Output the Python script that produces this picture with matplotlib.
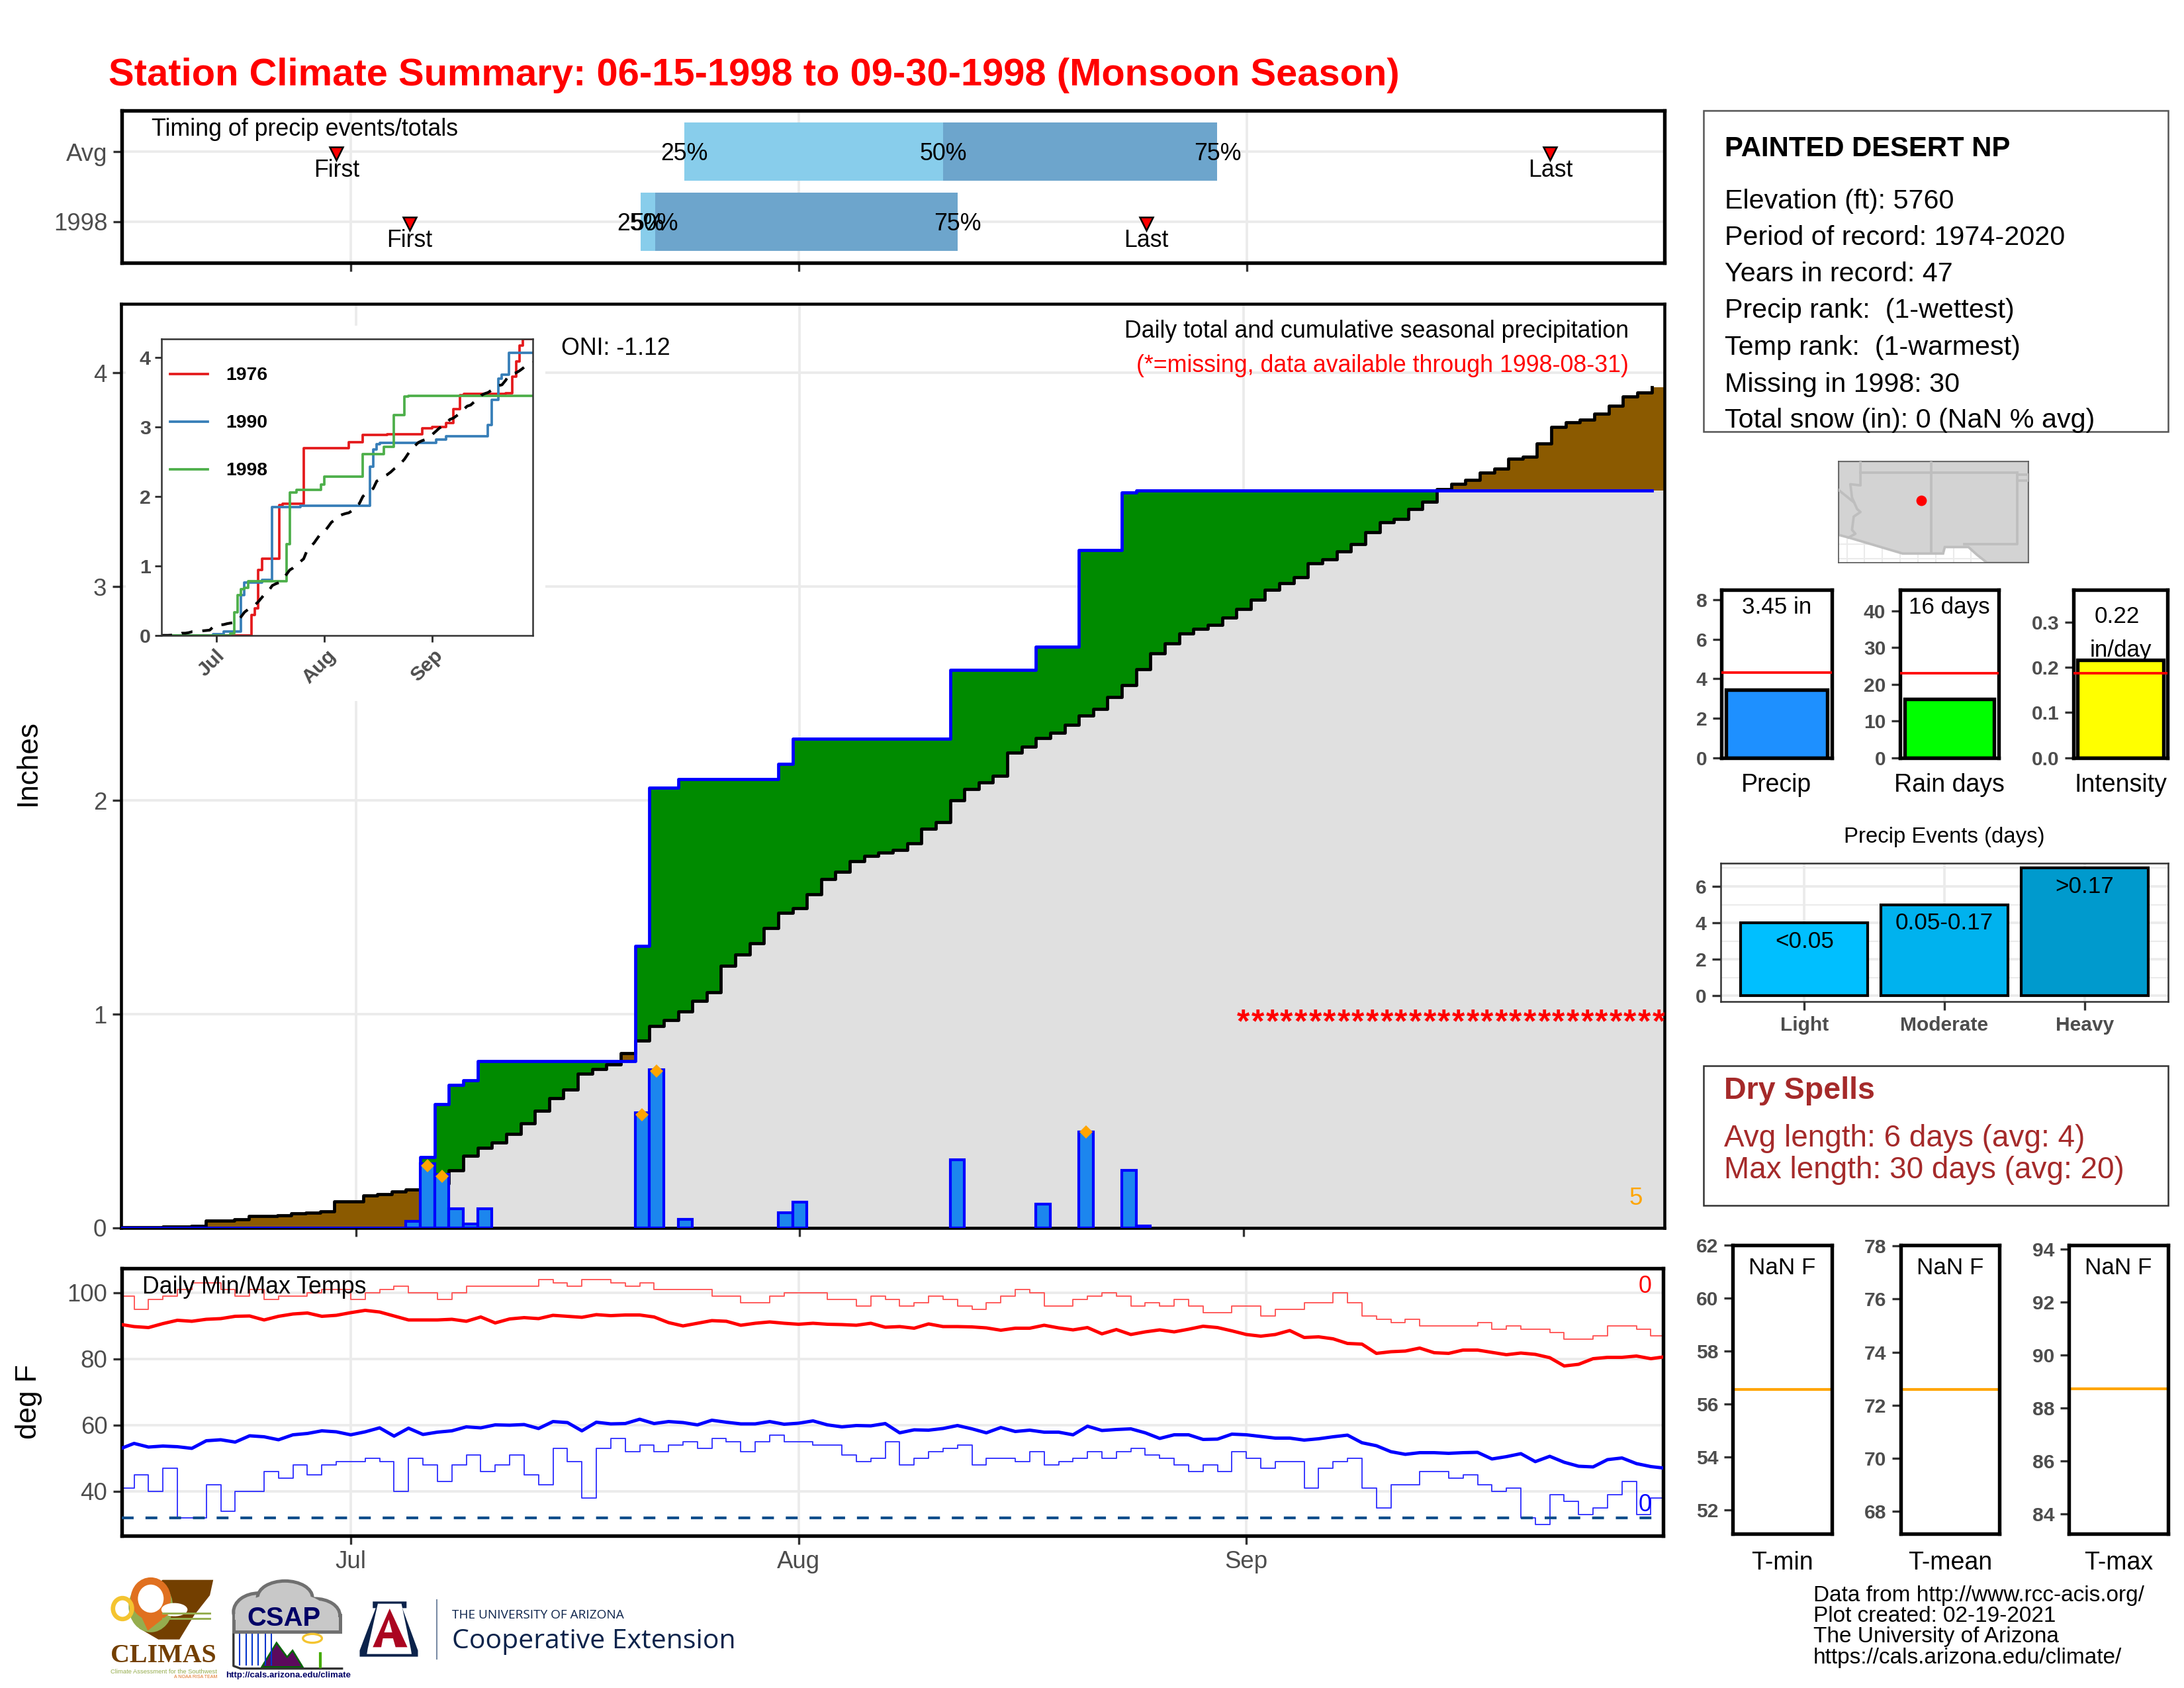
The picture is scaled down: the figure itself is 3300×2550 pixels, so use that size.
import numpy as np
import matplotlib
matplotlib.use("Agg")
import matplotlib.pyplot as plt
from matplotlib.patches import Ellipse, Polygon, Rectangle
from matplotlib.transforms import ScaledTranslation

plt.rcParams["font.family"] = ["Liberation Sans", "DejaVu Sans"]

# day index: 0 = Jun 15, 16 = Jul 1, 47 = Aug 1, 78 = Sep 1, 107 = Sep 30
days = np.arange(108)
month_ticks = [16, 47, 78]
month_labels = ["Jul", "Aug", "Sep"]

# daily precip 1998 (only the wet days)
precip_days = [20, 21, 22, 23, 24, 25, 36, 37, 39, 46, 47, 58, 64, 67, 70, 71]
precip_vals = [0.03, 0.30, 0.25, 0.09, 0.02, 0.09, 0.54, 0.74, 0.04, 0.07, 0.12, 0.32, 0.11, 0.45, 0.27, 0.01]
heavy_days = [21, 22, 36, 37, 67]
heavy_vals = [0.29, 0.24, 0.53, 0.735, 0.45]
missing_days = list(range(78, 108))

# average cumulative precip
avg_cum = [0.002, 0.002, 0.002, 0.005, 0.005, 0.01, 0.033, 0.033, 0.041, 0.055, 0.057, 0.06,
           0.067, 0.072, 0.077, 0.124, 0.124, 0.153, 0.157, 0.17, 0.179, 0.186, 0.207, 0.269,
           0.336, 0.374, 0.398, 0.439, 0.488, 0.548, 0.606, 0.648, 0.72, 0.744, 0.764, 0.819,
           0.876, 0.943, 0.973, 1.012, 1.062, 1.103, 1.227, 1.279, 1.333, 1.404, 1.473, 1.497,
           1.562, 1.631, 1.665, 1.716, 1.739, 1.755, 1.767, 1.8, 1.868, 1.899, 2.0, 2.052,
           2.085, 2.116, 2.222, 2.25, 2.292, 2.315, 2.352, 2.398, 2.429, 2.483, 2.54, 2.615,
           2.689, 2.733, 2.78, 2.804, 2.822, 2.855, 2.896, 2.94, 2.986, 3.017, 3.044, 3.11,
           3.129, 3.165, 3.2, 3.256, 3.302, 3.318, 3.363, 3.398, 3.457, 3.482, 3.498, 3.532,
           3.552, 3.598, 3.609, 3.67, 3.746, 3.769, 3.781, 3.81, 3.847, 3.888, 3.907, 3.932]

# inset years, change points only
y1976_days = [0, 26, 27, 28, 29, 34, 35, 41, 54, 58, 65, 75, 78, 82, 84, 86, 87, 99, 101, 102, 103, 104, 107]
y1976_vals = [0, 0.30, 0.395, 0.94, 1.107, 1.875, 1.90, 2.70, 2.78, 2.886, 2.897, 2.98, 3.0, 3.055, 3.263,
              3.46, 3.475, 3.49, 3.727, 3.946, 4.176, 4.267, 4.267]
y1990_days = [0, 15, 18, 23, 24, 29, 32, 40, 60, 61, 62, 63, 79, 82, 94, 95, 97, 98, 100, 107]
y1990_vals = [0, 0.02, 0.058, 0.577, 0.76, 0.797, 1.845, 1.867, 2.433, 2.678, 2.751, 2.77, 2.817, 2.872,
              3.03, 3.39, 3.694, 3.756, 4.067, 4.067]
legend_years = ["1976", "1990", "1998"]
legend_colors = ["#E41A1C", "#377EB8", "#4DAF4A"]

# top strip: timing of events, row order is 1998 then Avg
row_labels = ["1998", "Avg"]
first_day = [20.07, 15.0]
last_day = [71.05, 99.0]
q25_day = [36.06, 39.07]
q50_day = [37.04, 57.0]
q75_day = [58.0, 75.96]

# daily temps
tmax_obs = [99, 95, 98, 99, 101, 103, 103, 101, 99, 101, 98, 99, 99, 100, 101, 101, 98, 100, 101, 102,
            100, 100, 98, 100, 102, 102, 102, 102, 102, 104, 103, 102, 104, 104, 103, 102, 103, 101, 101,
            101, 101, 99, 99, 97, 97, 99, 100, 100, 100, 98, 98, 96, 99, 98, 96, 97, 99, 98, 96, 95, 97,
            99, 101, 100, 96, 96, 98, 99, 100, 99, 96, 97, 96, 98, 96, 94, 94, 96, 96, 93, 95, 95, 97, 97,
            100, 97, 93, 92, 91, 92, 90, 90, 90, 90, 91, 89, 90, 89, 89, 88, 86, 86, 87, 90, 90, 89, 87, 87]
tmin_obs = [41, 45, 40, 47, 32, 32, 42, 34, 40, 40, 46, 44, 48, 45, 48, 49, 49, 50, 49, 40, 50, 48, 43, 48,
            51, 46, 48, 51, 45, 42, 53, 49, 38, 53, 56, 52, 54, 52, 54, 55, 53, 56, 55, 52, 55, 57, 55, 55,
            54, 54, 51, 49, 50, 55, 48, 50, 52, 53, 54, 48, 50, 50, 49, 52, 48, 49, 50, 52, 50, 52, 53, 51,
            50, 48, 46, 48, 46, 52, 50, 47, 49, 49, 41, 47, 49, 50, 41, 35, 42, 42, 46, 46, 44, 45, 42, 40,
            41, 32, 30, 39, 37, 33, 35, 39, 43, 33, 38, 38]
tmax_avg = [90.5, 89.8, 89.5, 90.7, 91.7, 91.4, 92.0, 92.2, 92.9, 93.0, 91.8, 92.9, 93.6, 93.9, 92.9, 93.2,
            94.0, 94.7, 94.2, 93.0, 91.8, 91.8, 91.8, 92.0, 91.4, 92.7, 90.9, 92.1, 92.5, 92.2, 93.2, 92.9,
            92.6, 93.4, 93.1, 93.3, 93.3, 92.7, 91.0, 90.0, 90.8, 91.6, 91.4, 90.2, 90.8, 91.2, 90.8, 90.5,
            90.8, 90.5, 90.4, 90.2, 90.8, 89.6, 89.8, 89.3, 90.6, 89.8, 89.8, 89.7, 89.4, 88.7, 89.3, 89.3,
            90.2, 89.4, 88.8, 89.5, 87.6, 88.9, 87.4, 88.2, 88.8, 88.2, 89.0, 89.9, 89.5, 88.5, 87.4, 86.9,
            87.4, 88.6, 86.5, 86.7, 86.1, 84.7, 84.5, 81.7, 82.2, 82.4, 83.3, 81.9, 81.7, 82.7, 82.7, 82.0,
            81.3, 81.8, 81.4, 80.4, 77.9, 78.4, 80.1, 80.5, 80.5, 80.9, 80.1, 80.7]
tmin_avg = [52.8, 54.5, 53.4, 53.7, 53.5, 53.0, 55.3, 55.6, 54.9, 56.8, 56.5, 55.6, 57.1, 57.5, 58.3, 58.0,
            57.1, 58.0, 59.2, 56.7, 59.1, 57.2, 57.9, 58.3, 59.5, 59.2, 60.1, 60.0, 60.2, 59.0, 61.1, 60.8,
            58.3, 60.9, 60.4, 60.5, 61.8, 60.5, 61.1, 60.8, 60.1, 61.5, 60.9, 60.4, 60.4, 61.1, 60.3, 60.6,
            61.3, 60.1, 59.5, 59.9, 59.8, 60.5, 57.7, 58.6, 58.5, 59.0, 59.9, 58.9, 57.7, 59.3, 58.1, 58.5,
            57.9, 57.9, 57.1, 59.7, 58.4, 58.7, 58.9, 57.7, 56.0, 57.1, 57.1, 55.7, 55.8, 57.3, 57.1, 56.6,
            56.1, 56.1, 55.5, 55.9, 56.5, 57.0, 54.7, 53.8, 52.0, 51.2, 51.7, 51.7, 51.5, 51.7, 51.8, 49.8,
            50.5, 51.4, 49.0, 50.6, 48.8, 47.6, 47.4, 49.6, 50.1, 48.4, 47.5, 47.0]

# side panels
stat_labels = ["Precip", "Rain days", "Intensity"]
stat_vals = [3.45, 16, 0.216]
stat_avgs = [4.3, 23.1, 0.187]
event_labels = ["Light", "Moderate", "Heavy"]
event_vals = [4, 5, 7]
event_text = ["<0.05", "0.05-0.17", ">0.17"]
event_colors = ["#00BFFF", "#00B2EE", "#009ACD"]
temp_labels = ["T-min", "T-mean", "T-max"]
temp_avgs = [56.55, 72.6, 88.72]
info_lines = ["Elevation (ft): 5760", "Period of record: 1974-2020", "Years in record: 47",
              "Precip rank:  (1-wettest)", "Temp rank:  (1-warmest)", "Missing in 1998: 30",
              "Total snow (in): 0 (NaN % avg)"]
credit_lines = ["Data from http://www.rcc-acis.org/", "Plot created: 02-19-2021",
                "The University of Arizona", "https://cals.arizona.edu/climate/"]

# locator map outline, in map picture units
map_land = [(545, 65), (1108, 65), (1108, 331), (985, 331), (955, 310), (930, 290), (860, 290), (855, 307),
            (735, 307), (575, 265), (545, 258)]
map_az_west = [(610, 65), (610, 128), (580, 125), (585, 160), (600, 190), (610, 198), (590, 210), (585, 245),
               (595, 255), (575, 265)]
map_ca_nv = [(545, 140), (590, 172)]
map_az_nm = [(820, 65), (820, 307)]
map_ut_az = [(610, 95), (1075, 95)]
map_nm_east = [(1075, 95), (1075, 283), (918, 283)]
map_ok = [(1075, 100), (1108, 100), (1108, 115), (1075, 115)]

GREY = "#4D4D4D"
GRID = "#EBEBEB"
W, H = 3300, 2550
TXT = 8.6

fig = plt.figure(figsize=(11, 8.5), dpi=300)


def ax_px(x0, y0, x1, y1, **kw):
    return fig.add_axes([x0 / W, 1 - y1 / H, (x1 - x0) / W, (y1 - y0) / H], **kw)


def style_panel(ax, lw=1.1, size=8.8, weight="normal"):
    for s in ax.spines.values():
        s.set_linewidth(lw)
        s.set_color("black")
    ax.tick_params(length=3.2, width=0.8, color="#333333", labelcolor=GREY, labelsize=size, pad=2)
    for t in ax.get_xticklabels() + ax.get_yticklabels():
        t.set_fontweight(weight)
    ax.set_axisbelow(True)


# ---- top strip
ax = ax_px(184, 167, 2515, 397)
ax.set_xlim(0.15, 106.9)
ax.set_ylim(0.415, 2.585)
for k, row in enumerate([1, 2]):
    ax.barh(row, q50_day[k] - q25_day[k], left=q25_day[k], height=0.83, color="#88CDEB", zorder=2)
    ax.barh(row, q75_day[k] - q50_day[k], left=q50_day[k], height=0.83, color="#6DA5CC", zorder=2)
    for q, lab in zip([q25_day[k], q50_day[k], q75_day[k]], ["25%", "50%", "75%"]):
        ax.text(q, row - 0.03, lab, ha="center", va="center", fontsize=TXT, zorder=4)
    for d, lab in zip([first_day[k], last_day[k]], ["First", "Last"]):
        ax.plot(d, row - 0.03, marker="v", ms=5, mfc="red", mec="black", mew=0.6, zorder=5)
        ax.text(d, row - 0.27, lab, ha="center", va="center", fontsize=TXT, zorder=4)
ax.text(2.2, 2.32, "Timing of precip events/totals", ha="left", va="center", fontsize=TXT)
ax.set_xticks(month_ticks)
ax.set_xticklabels([])
ax.set_yticks([1, 2])
ax.set_yticklabels(row_labels)
ax.grid(True, color=GRID, lw=0.9)
style_panel(ax, lw=1.3)

# ---- main cumulative panel
precip_daily = np.zeros(108)
precip_daily[precip_days] = precip_vals
cum_obs = np.cumsum(precip_daily)
cum_avg = np.array(avg_cum)

ax = ax_px(183, 459, 2515, 1855)
ax.set_xlim(-0.4, 107.4)
ax.set_ylim(0, 4.323)
edge = days - 0.5
fill_x = np.r_[edge, 107.5]
fill_obs = np.r_[cum_obs, cum_obs[-1]]
fill_avg = np.r_[cum_avg, cum_avg[-1]]
ax.fill_between(fill_x, 0, np.minimum(fill_obs, fill_avg), step="post", color="#E0E0E0", lw=0, zorder=1.5)
ax.fill_between(fill_x, fill_avg, np.maximum(fill_obs, fill_avg), step="post", color="#008B00", lw=0, zorder=1.6)
ax.fill_between(fill_x, fill_obs, np.maximum(fill_obs, fill_avg), step="post", color="#8B5A00", lw=0, zorder=1.6)
ax.step(edge, cum_avg, where="post", color="black", lw=1.15, zorder=2)
ax.step(edge, cum_obs, where="post", color="#0000FF", lw=1.15, zorder=3)
ax.bar(precip_days, precip_vals, width=1, color="#1C86EE", edgecolor="#0000FF", lw=1.0, zorder=4)
ax.plot(heavy_days, heavy_vals, ls="none", marker="D", ms=3.4, color="#FFA500", mew=0, zorder=5)
for d in missing_days:
    ax.annotate("*", (d, 1.0), xytext=(0, -6.5), textcoords="offset points", ha="center", va="baseline",
                color="red", fontsize=12, fontweight="bold", zorder=5, clip_on=True)
ax.text(105.4, 0.137, "5", color="#FFA500", fontsize=8.8, ha="center", va="center", zorder=5)
ax.set_xticks(month_ticks)
ax.set_xticklabels([])
ax.set_yticks([0, 1, 2, 3, 4])
ax.grid(True, color=GRID, lw=0.9, zorder=0)
style_panel(ax)

# white box behind the inset
bg = ax_px(190, 492, 824, 1059)
bg.axis("off")
bg.add_patch(Rectangle((0, 0), 1, 1, color="white", transform=bg.transAxes))

ax = ax_px(244, 512, 805, 960)
ax.set_xlim(0.14, 106.85)
ax.set_ylim(0, 4.27)
ax.step(y1976_days, y1976_vals, where="post", color=legend_colors[0], lw=0.9)
ax.step(y1990_days, y1990_vals, where="post", color=legend_colors[1], lw=0.9)
ax.step(days, cum_obs, where="post", color=legend_colors[2], lw=0.9)
ax.plot(days, cum_avg, color="black", lw=1.0, dashes=(4, 3.6))
ax.set_xticks(month_ticks)
ax.set_xticklabels(month_labels, rotation=45, ha="center")
ax.set_yticks([0, 1, 2, 3, 4])
style_panel(ax, lw=0.6, size=7.3, weight="bold")
for s in ax.spines.values():
    s.set_color("#333333")
ax.tick_params(length=2.4, width=0.7, pad=1.5)
# nudge the slanted labels left of their ticks
for t in ax.get_xticklabels():
    t.set_transform(t.get_transform() + ScaledTranslation(-8 / 300, 0, fig.dpi_scale_trans))

# ---- temps
ax = ax_px(184, 1916, 2513, 2320)
ax.set_xlim(0.15, 106.85)
ax.set_ylim(26.6, 107.4)
ax.step(days, tmax_obs, where="post", color="#FF5555", lw=0.45, zorder=2)
ax.step(days, tmin_obs, where="post", color="#3333FF", lw=0.45, zorder=2)
ax.plot(days, tmax_avg, color="#FF0000", lw=1.2, zorder=3)
ax.plot(days, tmin_avg, color="#0000FF", lw=1.2, zorder=3)
ax.axhline(32, color="#104E8B", lw=1.0, dashes=(4.3, 4.3), zorder=3)
ax.text(1.55, 101.8, "Daily Min/Max Temps", ha="left", va="center", fontsize=TXT, zorder=4)
ax.text(105.6, 101.9, "0", color="red", fontsize=TXT, ha="center", va="center")
ax.text(105.6, 35.9, "0", color="blue", fontsize=TXT, ha="center", va="center")
ax.set_xticks(month_ticks)
ax.set_xticklabels(month_labels)
ax.set_yticks([40, 60, 80, 100])
ax.grid(True, color=GRID, lw=0.9, zorder=0)
style_panel(ax, lw=1.3)

# ---- locator map
ax = ax_px(2778, 697, 3065, 850)
ax.set_xlim(545, 1108)
ax.set_ylim(331, 65)
ax.set_xticks([570, 622, 675, 728, 780, 833, 886, 938, 1000, 1050])
ax.set_yticks([283, 320])
ax.grid(True, color=GRID, lw=0.5)
ax.set_axisbelow(True)
ax.tick_params(length=0, labelbottom=False, labelleft=False)
ax.add_patch(Polygon(map_land, closed=True, fc="#D3D3D3", ec="#BEBEBE", lw=0.9, zorder=2))
for line in [map_az_west, map_ca_nv, map_az_nm, map_ut_az, map_nm_east, map_ok]:
    ax.plot(*zip(*line), color="#BEBEBE", lw=0.9, zorder=3)
ax.plot(790, 167, marker="o", ms=3.8, color="red", mew=0, zorder=4)
for s in ax.spines.values():
    s.set_linewidth(0.4)
    s.set_color("#555555")

# ---- precip stats
stat_boxes = [(2601, 2768), (2871, 3020), (3133, 3275)]
stat_ylims = [(0, 8.5), (0, 45.8), (0, 0.371)]
stat_ticks = [[0, 2, 4, 6, 8], [0, 10, 20, 30, 40], [0.0, 0.1, 0.2, 0.3]]
stat_fmt = ["%d", "%d", "%.1f"]
stat_colors = ["#1E90FF", "#00FF00", "#FFFF00"]
for k in range(3):
    x0, x1 = stat_boxes[k]
    ax = ax_px(x0, 891, x1, 1144.5)
    ax.set_xlim(-0.53, 0.53)
    ax.set_ylim(stat_ylims[k])
    ax.bar(0, stat_vals[k], width=0.965, color=stat_colors[k], edgecolor="black", lw=1.3)
    ax.axhline(stat_avgs[k], color="red", lw=0.9, zorder=3)
    ax.set_xticks([])
    ax.set_yticks(stat_ticks[k])
    ax.set_yticklabels([stat_fmt[k] % v for v in stat_ticks[k]])
    style_panel(ax, lw=1.3, size=7.2, weight="bold")
    ax.text(0, 0.895, ["3.45 in", "16 days", ""][k], transform=ax.get_xaxis_transform(), ha="center", va="center",
            fontsize=8.4)
ax.text(-0.04, 0.84, "0.22", transform=ax.get_xaxis_transform(), ha="center", va="center", fontsize=8.4)
ax.text(0, 0.64, "in/day", transform=ax.get_xaxis_transform(), ha="center", va="center", fontsize=8.4)

# ---- precip events
ax = ax_px(2600, 1304, 3276, 1513)
ax.set_xlim(-0.597, 2.597)
ax.set_ylim(-0.31, 7.27)
ax.bar(range(3), event_vals, width=0.907, color=event_colors, edgecolor="black", lw=1.0, zorder=2)
for k in range(3):
    ax.text(k, event_vals[k] - 1.02, event_text[k], ha="center", va="center", fontsize=8.4, zorder=3)
ax.set_xticks(range(3))
ax.set_xticklabels(event_labels)
ax.set_yticks([0, 2, 4, 6])
ax.set_yticks([1, 3, 5, 7], minor=True)
ax.grid(True, which="major", color=GRID, lw=0.9, zorder=0)
ax.grid(True, which="minor", axis="y", color=GRID, lw=0.5, zorder=0)
style_panel(ax, lw=0.6, size=7.2, weight="bold")
ax.tick_params(which="minor", length=0)
for s in ax.spines.values():
    s.set_color("#333333")

# ---- temperature stats
temp_boxes = [(2618, 2768), (2872, 3021), (3126, 3276)]
temp_ylims = [(51.1, 61.98), (67.16, 78.03), (83.26, 94.14)]
temp_ticks = [[52, 54, 56, 58, 60, 62], [68, 70, 72, 74, 76, 78], [84, 86, 88, 90, 92, 94]]
for k in range(3):
    x0, x1 = temp_boxes[k]
    ax = ax_px(x0, 1881, x1, 2317)
    ax.set_ylim(temp_ylims[k])
    ax.set_xlim(0, 1)
    ax.axhline(temp_avgs[k], color="#FFA500", lw=1.0)
    ax.set_xticks([])
    ax.set_yticks(temp_ticks[k])
    style_panel(ax, lw=1.3, size=7.2, weight="bold")
    ax.text(0.5, 0.921, "NaN F", transform=ax.transAxes, ha="center", va="center", fontsize=8.4)

# ---- page level text, logos. Overlay uses picture pixels
ov = ax_px(0, 0, W, H, zorder=20)
ov.set_xlim(0, W)
ov.set_ylim(H, 0)
ov.axis("off")
ov.patch.set_alpha(0)

ov.text(164, 114, "Station Climate Summary: 06-15-1998 to 09-30-1998 (Monsoon Season)", color="red",
        fontsize=13.9, fontweight="bold", ha="left", va="center")
ov.text(848, 527, "ONI: -1.12", fontsize=TXT, ha="left", va="center")
ov.text(2461, 500, "Daily total and cumulative seasonal precipitation", fontsize=TXT, ha="right", va="center")
ov.text(2461, 552, "(*=missing, data available through 1998-08-31)", fontsize=TXT, color="red", ha="right", va="center")
ov.text(42, 1152, "Inches", fontsize=10.6, rotation=90, ha="center", va="center")
ov.text(44, 2117, "deg F", fontsize=10.6, rotation=90, ha="center", va="center")

# inset legend
for k in range(3):
    yc = [565, 637, 709][k]
    ov.plot([257, 314], [yc, yc], color=legend_colors[k], lw=0.9)
    ov.text(341, yc + 2, legend_years[k], fontsize=6.8, fontweight="bold", va="center")

ov.add_patch(Rectangle((2574, 167), 702, 485, fc="none", ec="#555555", lw=0.6))
ov.text(2606, 236, "PAINTED DESERT NP", fontsize=10.05, fontweight="bold", va="baseline")
for line, yb in zip(info_lines, [315, 370, 425, 480, 536, 592, 646]):
    ov.text(2606, yb, line, fontsize=9.9, va="baseline")

for k in range(3):
    ov.text(sum(stat_boxes[k]) / 2, 1186, stat_labels[k], fontsize=9, ha="center", va="center")
    ov.text(sum(temp_boxes[k]) / 2, 2361, temp_labels[k], fontsize=9, ha="center", va="center")
ov.text(2938, 1264, "Precip Events (days)", fontsize=7.9, ha="center", va="center")

ov.add_patch(Rectangle((2574, 1610), 702, 211, fc="none", ec="#333333", lw=0.6))
ov.text(2605, 1648, "Dry Spells", fontsize=11.2, fontweight="bold", color="#A52A2A", va="center")
ov.text(2605, 1720, "Avg length: 6 days (avg: 4)", fontsize=11, color="#A52A2A", va="center")
ov.text(2605, 1768, "Max length: 30 days (avg: 20)", fontsize=11, color="#A52A2A", va="center")

for line, yc in zip(credit_lines, [2410, 2441, 2473, 2505]):
    ov.text(2740, yc, line, fontsize=8.0, va="center")


def lx(x):
    return 150 + x / 1.568


def ly(y):
    return 2360 + y / 3


def logo_poly(pts, color, ec="none", lw=0):
    ov.add_patch(Polygon([(lx(a), ly(b)) for a, b in pts], closed=True, fc=color, ec=ec, lw=lw))


def logo_ell(x, y, w, h, color, ec="none", lw=0):
    ov.add_patch(Ellipse((lx(x), ly(y)), w / 1.568, h / 3, fc=color, ec=ec, lw=lw))


# CLIMAS
logo_poly([(150, 80), (270, 80), (262, 150), (225, 240), (190, 350), (140, 350), (95, 300), (80, 240), (90, 160)], "#733F00")
logo_ell(122, 200, 105, 235, "#95AD4E")
logo_ell(122, 165, 78, 160, "white", ec="#E07020", lw=2.6)
logo_ell(55, 210, 45, 95, "none", ec="#F4C430", lw=1.6)
logo_ell(178, 215, 62, 60, "white")
logo_poly([(98, 240), (165, 235), (115, 310)], "#E07020")
ov.plot([lx(150), lx(262)], [ly(232), ly(232)], color="#95AD4E", lw=0.7)
ov.plot([lx(150), lx(262)], [ly(255), ly(255)], color="#95AD4E", lw=0.7)
ov.text(lx(152), ly(424), "CLIMAS", family="Liberation Serif", color="#733F00", fontsize=9.6, fontweight="bold", ha="center", va="center")
ov.text(lx(152), ly(495), "Climate Assessment for the Southwest", color="#95AD4E", fontsize=2.25, ha="center", va="center")
ov.text(lx(228), ly(520), "A NOAA RISA TEAM", color="#E07020", fontsize=1.7, ha="center", va="center")

# CSAP cloud, outlines first then fill over the seams
for xc, yc, w, h in [(378, 225, 120, 170), (440, 160, 130, 150), (510, 240, 120, 150)]:
    logo_ell(xc, yc, w, h, "#C8C8C8", ec="#707070", lw=1.2)
logo_poly([(318, 240), (570, 240), (570, 315), (318, 315)], "#C8C8C8", ec="#707070", lw=1.2)
logo_poly([(322, 235), (566, 235), (566, 260), (322, 260)], "#C8C8C8")
logo_ell(440, 200, 180, 120, "#C8C8C8")
ov.text(lx(437), ly(255), "CSAP", color="#000066", fontsize=9.6, fontweight="bold", ha="center", va="center")
for xb in [332, 348, 362, 377, 393, 408]:
    ov.plot([lx(xb), lx(xb)], [ly(328), ly(465)], color="#0033CC", lw=0.5)
ov.plot([lx(318), lx(318), lx(335), lx(575)], [ly(328), ly(470), ly(482), ly(482)], color="#333333", lw=0.8)
logo_poly([(385, 475), (420, 365), (445, 430), (458, 400), (482, 475)], "#5C0A5C", ec="#006600", lw=0.6)
logo_ell(505, 345, 45, 40, "none", ec="#F4C430", lw=0.8)
ov.plot([lx(524), lx(524)], [ly(415), ly(475)], color="#44AA00", lw=1.0)
ov.text(lx(448), ly(512), "http://cals.arizona.edu/climate", color="#000066", fontsize=3.2, fontweight="bold", ha="center", va="center")

# UA block A
logo_poly([(648, 178), (728, 178), (728, 208), (718, 208), (755, 400), (755, 428), (617, 428), (617, 400), (655, 208), (648, 208)], "#0C234B")
logo_poly([(660, 188), (716, 188), (738, 392), (740, 416), (634, 416), (636, 392)], "white")
logo_poly([(688, 210), (730, 385), (702, 385), (696, 345), (672, 345), (668, 385), (648, 385)], "#AB0520")
logo_poly([(686, 260), (694, 318), (675, 318)], "white")
ov.plot([lx(800), lx(800)], [ly(170), ly(437)], color="#7A8CA5", lw=0.5)
ov.text(lx(835), ly(240), "THE UNIVERSITY OF ARIZONA", family="Open Sans", color="#0C234B", fontsize=4.55, ha="left", va="center")
ov.text(lx(835), ly(360), "Cooperative Extension", family="Open Sans", color="#0C234B", fontsize=9.85, ha="left", va="center")

fig.savefig("out.png", dpi=300)
